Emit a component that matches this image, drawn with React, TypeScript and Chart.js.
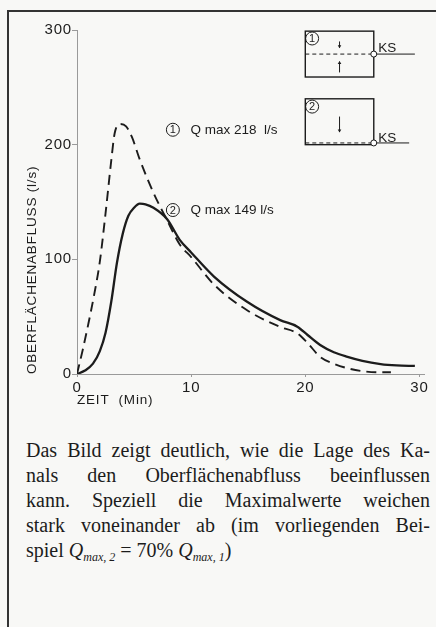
import React, { useEffect, useRef } from "react";
import { Chart, registerables } from "chart.js";

Chart.register(...registerables);

// Case 1 (dashed): channel in the middle of the area
const timeCase1 = [0, 0.5, 1, 1.5, 2, 2.5, 3, 3.3, 3.8, 4.3, 4.8, 5.5, 6.7, 7.9, 9, 10, 12, 15, 17.8, 19.3, 20.2, 21.3, 22.5, 23.7, 25, 26.6, 27.5];
const flowCase1 = [0, 21, 44, 69, 98, 140, 186, 210, 218, 216, 207, 187, 158, 134, 113, 102, 78, 55, 41, 35.5, 27, 15, 9, 5, 2.5, 1.5, 1.5];

// Case 2 (solid): channel at the lower edge
const timeCase2 = [0, 0.7, 1.4, 2, 2.5, 3, 3.5, 4, 4.5, 5, 5.5, 6, 6.7, 7.9, 9, 10, 12, 14.9, 17.8, 19.3, 20.2, 21.3, 22.5, 23.7, 25, 26.6, 28, 29.6];
const flowCase2 = [0, 3, 9, 20, 36, 63, 97, 122, 138, 145, 148.5, 148, 145, 135, 117, 106, 85, 63, 47, 41.3, 34, 25.3, 19, 15, 11.5, 8.7, 7.5, 7];

const xTicks = [0, 10, 20, 30];
const yTicks = [0, 100, 200, 300];

const peakNumbers = ["1", "2"];
const peakTexts = ["Q max 218  l/s", "Q max 149 l/s"];
const peakLabelX = 8.4;
const peakLabelY = [213, 143];

// inset sketches (data units)
const insetX = [20, 26];
const insetBoxesY = [[259, 299], [200, 240]];
const channelLevel = [279, 201.5];
const channelEnd = [29.6, 29.1];
const insetArrows = [
  [[23, 290, 284.5], [23, 263, 272.5]],
  [[23, 224.5, 211]],
];
const insetNumberPos = [[20.6, 292.6], [20.6, 233.2]];
const ksLabelPos = [[26.4, 280.8], [26.4, 202.5]];

const INK = "#1c1c1c";
const AXIS = "#9a9a9a";
const SANS = "'Liberation Sans', Arial, Helvetica, sans-serif";

const spacingPlugin = {
  id: "spacing",
  beforeDraw(chart: any) {
    chart.ctx.letterSpacing = "0.8px";
  },
  beforeDatasetsDraw(chart: any) {
    chart.ctx.letterSpacing = "0px";
  },
};

const annotationPlugin = {
  id: "annotations",
  afterDatasetsDraw(chart: any) {
    const { ctx, scales } = chart;
    const X = (v: number) => scales.x.getPixelForValue(v);
    const Y = (v: number) => scales.y.getPixelForValue(v);
    ctx.save();
    ctx.letterSpacing = "0px";
    ctx.fillStyle = INK;
    ctx.strokeStyle = INK;
    ctx.setLineDash([]);

    const circled = (cx: number, cy: number, d: string) => {
      ctx.beginPath();
      ctx.lineWidth = 1;
      ctx.arc(cx, cy, 6.5, 0, Math.PI * 2);
      ctx.stroke();
      ctx.font = `11px ${SANS}`;
      ctx.textAlign = "center";
      ctx.textBaseline = "middle";
      ctx.fillText(d, cx, cy + 0.5);
    };

    // peak labels
    peakTexts.forEach((txt, i) => {
      const cx = X(peakLabelX);
      const cy = Y(peakLabelY[i]);
      circled(cx, cy, peakNumbers[i]);
      ctx.font = `13.5px ${SANS}`;
      ctx.textAlign = "left";
      ctx.textBaseline = "middle";
      ctx.fillText(txt, cx + 17.5, cy + 0.5);
    });

    // inset sketches
    insetBoxesY.forEach((by, i) => {
      const x0 = X(insetX[0]);
      const x1 = X(insetX[1]);
      const y0 = Y(by[1]);
      const y1 = Y(by[0]);
      ctx.setLineDash([]);
      ctx.lineWidth = 1.4;
      ctx.strokeRect(x0, y0, x1 - x0, y1 - y0);

      const ly = Y(channelLevel[i]);
      ctx.lineWidth = 1;
      ctx.setLineDash([4, 3]);
      ctx.beginPath();
      ctx.moveTo(x0, ly);
      ctx.lineTo(x1, ly);
      ctx.stroke();
      ctx.setLineDash([]);
      ctx.beginPath();
      ctx.moveTo(x1, ly);
      ctx.lineTo(X(channelEnd[i]), ly);
      ctx.stroke();
      ctx.beginPath();
      ctx.fillStyle = "#ffffff";
      ctx.arc(x1, ly, 3, 0, Math.PI * 2);
      ctx.fill();
      ctx.stroke();
      ctx.fillStyle = INK;

      insetArrows[i].forEach((a) => {
        const ax = X(a[0]);
        const ya = Y(a[1]);
        const yb = Y(a[2]);
        ctx.lineWidth = 1;
        ctx.beginPath();
        ctx.moveTo(ax, ya);
        ctx.lineTo(ax, yb);
        ctx.stroke();
        const dir = yb > ya ? 1 : -1;
        ctx.beginPath();
        ctx.moveTo(ax - 1.8, yb - dir * 2.5);
        ctx.lineTo(ax + 1.8, yb - dir * 2.5);
        ctx.lineTo(ax, yb + dir * 0.5);
        ctx.closePath();
        ctx.fill();
      });

      const np = insetNumberPos[i];
      circled(X(np[0]), Y(np[1]), peakNumbers[i]);

      const kp = ksLabelPos[i];
      ctx.font = `13.5px ${SANS}`;
      ctx.textAlign = "left";
      ctx.textBaseline = "alphabetic";
      ctx.fillText("KS", X(kp[0]), Y(kp[1]));
    });
    ctx.restore();
  },
};

function ChartBlock() {
  const ref = useRef<HTMLCanvasElement | null>(null);
  useEffect(() => {
    if (!ref.current) return;
    const chart = new Chart(ref.current, {
      type: "line",
      data: {
        datasets: [
          {
            label: "Fall 1",
            data: timeCase1.map((t, i) => ({ x: t, y: flowCase1[i] })),
            borderColor: INK,
            borderWidth: 1.9,
            borderDash: [10, 6],
            pointRadius: 0,
            fill: false,
            cubicInterpolationMode: "monotone",
          },
          {
            label: "Fall 2",
            data: timeCase2.map((t, i) => ({ x: t, y: flowCase2[i] })),
            borderColor: INK,
            borderWidth: 2.3,
            pointRadius: 0,
            fill: false,
            cubicInterpolationMode: "monotone",
          },
        ],
      },
      options: {
        animation: false,
        responsive: false,
        layout: { padding: { top: 30, right: 12, left: 0, bottom: 0 } },
        plugins: { legend: { display: false }, tooltip: { enabled: false } },
        scales: {
          x: {
            type: "linear",
            min: 0,
            max: 30.4,
            afterBuildTicks: (s: any) => {
              s.ticks = xTicks.map((v) => ({ value: v }));
            },
            afterFit: (s: any) => {
              s.height = 46;
            },
            border: { color: AXIS, width: 1 },
            grid: { drawOnChartArea: false, drawTicks: true, tickLength: 3, color: AXIS },
            ticks: {
              color: INK,
              padding: 2,
              maxRotation: 0,
              font: { family: SANS, size: 15 },
            },
            title: {
              display: true,
              text: "ZEIT  (Min)",
              align: "start",
              color: INK,
              font: { family: SANS, size: 13.5 },
              padding: { top: 0, bottom: 12 },
            },
          },
          y: {
            type: "linear",
            min: 0,
            max: 300,
            afterBuildTicks: (s: any) => {
              s.ticks = yTicks.map((v) => ({ value: v }));
            },
            afterFit: (s: any) => {
              s.width = 77;
            },
            border: { color: AXIS, width: 1 },
            grid: { drawOnChartArea: false, drawTicks: true, tickLength: 5, color: AXIS },
            ticks: {
              color: INK,
              padding: 0,
              font: { family: SANS, size: 15 },
            },
            title: {
              display: true,
              text: "OBERFLÄCHENABFLUSS (l/s)",
              align: "start",
              color: INK,
              font: { family: SANS, size: 13.5 },
              padding: { top: 24, bottom: 0 },
            },
          },
        },
      },
      plugins: [spacingPlugin, annotationPlugin],
    } as any);
    return () => chart.destroy();
  }, []);
  return <canvas ref={ref} width={436} height={420} style={{ display: "block", width: 436, height: 420 }} />;
}

const lineStyle: React.CSSProperties = {
  textAlign: "justify",
  textAlignLast: "justify" as any,
  whiteSpace: "nowrap",
  height: 25,
};

export default function App() {
  return (
    <>
      <div style={{ position: "absolute", left: 0, top: 0, width: 436, height: 627, background: "#f8f8f6" }} />
      <div
        style={{
          position: "absolute",
          left: 7,
          top: 10,
          width: 429,
          height: 617,
          boxSizing: "border-box",
          borderLeft: "2px solid #333",
          borderTop: "2px solid #333",
        }}
      />
      <div style={{ position: "absolute", left: 0, top: 0, width: 436, height: 420 }}>
        <ChartBlock />
      </div>
      <div
        style={{
          position: "absolute",
          left: 26,
          top: 438,
          width: 404,
          fontFamily: "'Liberation Serif', 'Times New Roman', serif",
          fontSize: 20,
          lineHeight: "25px",
          color: "#1c1c1c",
        }}
      >
        <div style={lineStyle}>Das Bild zeigt deutlich, wie die Lage des Ka-</div>
        <div style={lineStyle}>nals den Oberflächenabfluss beeinflussen</div>
        <div style={lineStyle}>kann. Speziell die Maximalwerte weichen</div>
        <div style={lineStyle}>stark voneinander ab (im vorliegenden Bei-</div>
        <div style={{ height: 25, whiteSpace: "nowrap" }}>
          spiel <i>Q</i>
          <i style={{ fontSize: 12, position: "relative", top: 4, lineHeight: 0 }}>max, 2</i> = 70%{" "}
          <i>Q</i>
          <i style={{ fontSize: 12, position: "relative", top: 4, lineHeight: 0 }}>max, 1</i>)
        </div>
      </div>
    </>
  );
}
